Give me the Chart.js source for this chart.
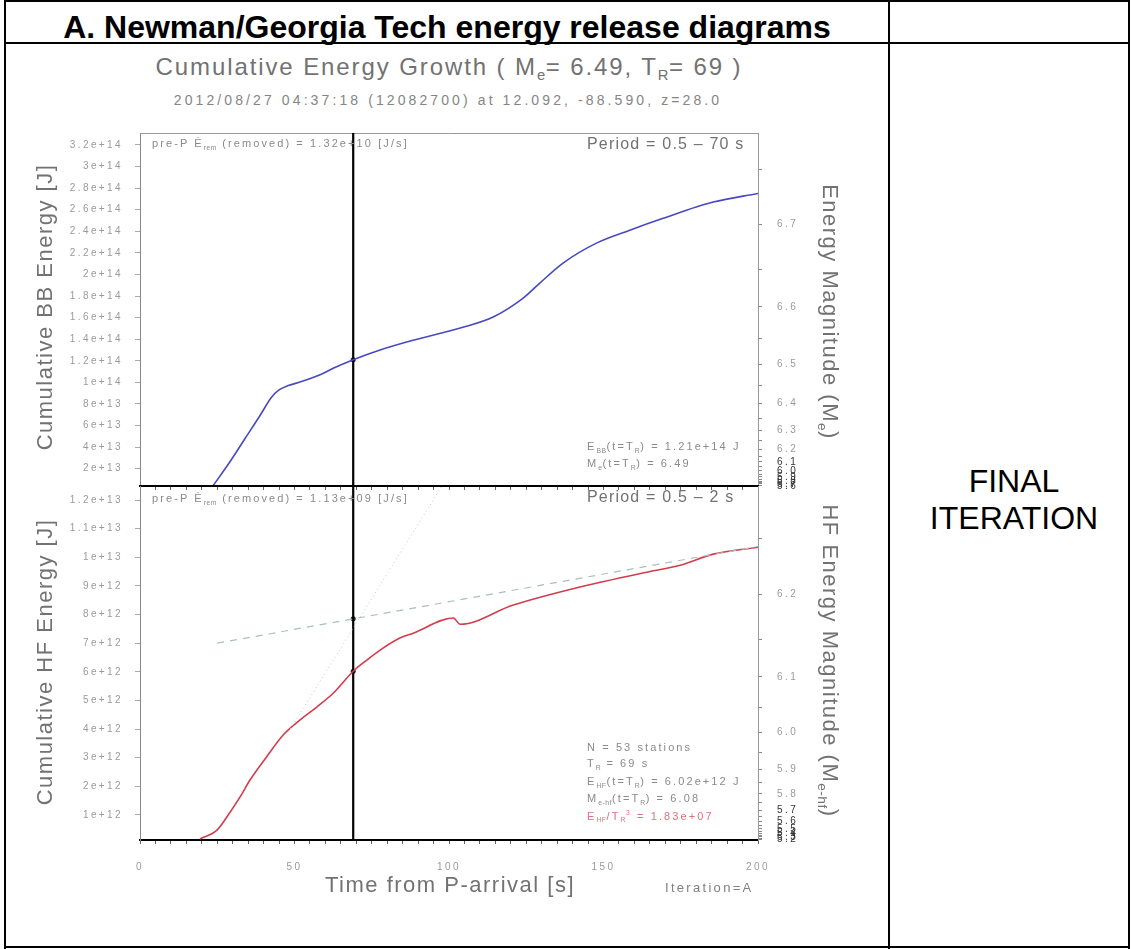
<!DOCTYPE html>
<html lang="en">
<head>
<meta charset="UTF-8">
<title>Cumulative Energy Growth</title>
<script src="https://cdn.jsdelivr.net/npm/chart.js@4.4.1/dist/chart.umd.min.js"></script>
<style>
  body { margin: 0; background: #fff; font-family: 'Liberation Sans', Arial, sans-serif; }
  #page { position: relative; width: 1131px; height: 949px; overflow: hidden; }
  .rule { position: absolute; background: #000; }
  .txt { position: absolute; white-space: nowrap; color: #727272; line-height: 1; }
  .c { transform: translate(-50%, -50%); }
  .l { transform: translate(0, -50%); }
  .up { transform: translate(-50%, -50%) rotate(-90deg); }
  .down { transform: translate(-50%, -50%) rotate(90deg); }
  .small { font-size: 11px; letter-spacing: 2.1px; color: #8a8a8a; }
  .ax { font-size: 22px; letter-spacing: 1.5px; }
  sub { font-size: 62%; vertical-align: -0.35em; letter-spacing: 0.5px; }
  canvas { position: absolute; }
</style>
</head>
<body>
<div id="page">
  <!-- table frame -->
  <div class="rule" style="left:4px;top:0;width:1126px;height:2px"></div>
  <div class="rule" style="left:4px;top:42px;width:1126px;height:2px"></div>
  <div class="rule" style="left:4px;top:946px;width:1126px;height:2px"></div>
  <div class="rule" style="left:4px;top:0;width:2px;height:949px"></div>
  <div class="rule" style="left:888px;top:0;width:2px;height:949px"></div>
  <div class="rule" style="left:1128px;top:0;width:2px;height:949px"></div>

  <div class="txt" style="left:6px;width:882px;top:11px;text-align:center;font-weight:bold;font-size:32px;color:#000">A. Newman/Georgia Tech energy release diagrams</div>
  <div class="txt" style="left:895px;width:238px;top:463px;text-align:center;font-size:32px;line-height:37px;color:#000">FINAL<br>ITERATION</div>

  <canvas id="topPanel" width="890" height="370" style="left:0;top:120px"></canvas>
  <canvas id="bottomPanel" width="890" height="440" style="left:0;top:480px"></canvas>

  <!-- titles -->
  <div class="txt c" style="left:449px;top:69px;font-size:24px;letter-spacing:1.9px">Cumulative Energy Growth ( M<sub>e</sub>= 6.49, T<sub>R</sub>= 69 )</div>
  <div class="txt c" style="left:448px;top:100px;font-size:14px;letter-spacing:3.1px;color:#858585">2012/08/27 04:37:18 (12082700) at 12.092, -88.590, z=28.0</div>

  <div class="txt ax up" style="left:45px;top:307px">Cumulative BB Energy [J]</div>
  <div class="txt ax up" style="left:45px;top:662px">Cumulative HF Energy [J]</div>
  <div class="txt ax down" style="left:828px;top:312px">Energy Magnitude (M<sub>e</sub>)</div>
  <div class="txt ax down" style="left:828px;top:661px">HF Energy Magnitude (M<sub>e-hf</sub>)</div>
  <div class="txt ax c" style="left:450px;top:885px">Time from P-arrival [s]</div>
  <div class="txt l" style="left:665px;top:887px;font-size:13px;letter-spacing:2.3px;color:#808080">Iteration=A</div>

  <!-- top panel notes -->
  <div class="txt l small" style="left:152px;top:145px">pre-P Ė<sub>rem</sub> (removed) = 1.32e+10 [J/s]</div>
  <div class="txt l" style="left:587px;top:144px;font-size:16px;letter-spacing:1.2px">Period = 0.5 – 70 s</div>
  <div class="txt l small" style="left:587px;top:448px">E<sub>BB</sub>(t=T<sub>R</sub>) = 1.21e+14 J</div>
  <div class="txt l small" style="left:587px;top:465px">M<sub>e</sub>(t=T<sub>R</sub>) = 6.49</div>

  <!-- bottom panel notes -->
  <div class="txt l small" style="left:152px;top:500px">pre-P Ė<sub>rem</sub> (removed) = 1.13e+09 [J/s]</div>
  <div class="txt l" style="left:587px;top:497px;font-size:16px;letter-spacing:1.2px">Period = 0.5 – 2 s</div>
  <div class="txt l small" style="left:587px;top:747px">N = 53 stations</div>
  <div class="txt l small" style="left:587px;top:765px">T<sub>R</sub> = 69 s</div>
  <div class="txt l small" style="left:587px;top:783px">E<sub>HF</sub>(t=T<sub>R</sub>) = 6.02e+12 J</div>
  <div class="txt l small" style="left:587px;top:800px">M<sub>e-hf</sub>(t=T<sub>R</sub>) = 6.08</div>
  <div class="txt l small" style="left:587px;top:817px;color:#e0707e">E<sub>HF</sub>/T<sub>R</sub><sup style="font-size:62%">3</sup> = 1.83e+07</div>
</div>

<script>
// time axis (s)
const T_R = 69;
const xTickLabels = [0, 50, 100, 150, 200];
const xMinorStep = 5;

// broadband (0.5 - 70 s) cumulative energy, J
const bbTime = [23.6, 29, 34, 39, 42.5, 45, 48, 52, 58.3, 62.5, 69, 77.7, 88.4, 104.5, 114.3, 124.0, 129.4, 136.9, 147.7, 158.5, 169.3, 185.5, 200];
const bbEnergy = [0.4e13, 2.6e13, 4.8e13, 7.0e13, 8.6e13, 9.3e13, 9.7e13, 10.05e13, 10.7e13, 11.3e13, 12.1e13, 13.0e13, 13.9e13, 15.1e13, 16.05e13, 17.8e13, 19.2e13, 21.05e13, 22.9e13, 24.1e13, 25.2e13, 26.7e13, 27.5e13];

// high frequency (0.5 - 2 s) cumulative energy, J
const hfTime = [19.4, 24.9, 28.1, 32.4, 35.6, 41.1, 46.4, 51.8, 57.2, 62.6, 69, 73.4, 77.7, 84.1, 88.4, 101.4, 103.6, 120.8, 142.4, 164.0, 174.8, 185.5, 200];
const hfEnergy = [0.16e12, 0.47e12, 0.93e12, 1.63e12, 2.22e12, 3.05e12, 3.8e12, 4.32e12, 4.77e12, 5.26e12, 6.02e12, 6.41e12, 6.76e12, 7.18e12, 7.35e12, 7.88e12, 7.66e12, 8.33e12, 8.96e12, 9.48e12, 9.72e12, 10.11e12, 10.35e12];

// fit lines drawn on the HF panel
const fitTime = [25, 200];
const fitEnergy = [7.0e12, 10.38e12];
const slopeTime = [48, 98];
const slopeEnergy = [3.89e12, 12.54e12];

// values marked at t = T_R
const bbAtTR = [1.21e14];
const hfAtTR = [6.02e12, 7.85e12];

// axes
const bbRange = [4e12, 3.31e14];
const hfRange = [1.26e11, 1.249e13];
const bbTicks = [2e13, 4e13, 6e13, 8e13, 1e14, 1.2e14, 1.4e14, 1.6e14, 1.8e14, 2e14, 2.2e14, 2.4e14, 2.6e14, 2.8e14, 3e14, 3.2e14];
const hfTicks = [1e12, 2e12, 3e12, 4e12, 5e12, 6e12, 7e12, 8e12, 9e12, 1e13, 1.1e13, 1.2e13];
const bbMagTicks = [6.75, 6.7, 6.65, 6.6, 6.55, 6.5, 6.45, 6.4, 6.35, 6.3, 6.25, 6.2, 6.15, 6.1, 6.05, 6.0, 5.95, 5.9, 5.85, 5.8, 5.75, 5.7, 5.65, 5.6];
const hfMagTicks = [6.25, 6.2, 6.15, 6.1, 6.05, 6.0, 5.95, 5.9, 5.85, 5.8, 5.75, 5.7, 5.65, 5.6, 5.55, 5.5, 5.45, 5.4, 5.35, 5.3, 5.25, 5.2];
// below these the printed labels pile up into a dark smudge
const bbMagCrowded = 6.15;
const hfMagCrowded = 5.75;

// magnitude scale on the right hand axes (as printed on the plot)
const bbMagToEnergy = m => Math.pow(10, 14.068 + 1.62 * (m - 6.5));
const hfMagToEnergy = m => Math.pow(10, 12.765 + 1.75 * (m - 6.1));

const GREY = '#9a9a9a';
const tickFont = { family: "'Liberation Sans', Arial, sans-serif", size: 10 };

function xy(xs, ys) {
    return xs.map((x, i) => ({ x: x, y: ys[i] }));
}

// canvas text is spaced out like the original plot
const spacedText = {
    id: 'spacedText',
    beforeUpdate(chart) { chart.ctx.letterSpacing = '2.4px'; },
    beforeDraw(chart) { chart.ctx.letterSpacing = '2.4px'; }
};

// keep the plot box where it is, whatever the labels want
function noPad(s) {
    s.paddingTop = 0; s.paddingBottom = 0; s.paddingLeft = 0; s.paddingRight = 0;
}

function makePanel(id, cfg) {
    const magTicks = cfg.magTicks.filter(m => {
        const e = cfg.magToEnergy(m);
        return e >= cfg.range[0] && e <= cfg.range[1];
    });
    return new Chart(document.getElementById(id), {
        type: 'line',
        data: { datasets: cfg.datasets },
        plugins: [spacedText],
        options: {
            responsive: false,
            animation: false,
            parsing: false,
            layout: { padding: { top: cfg.padTop, left: 0, right: 0, bottom: 0 } },
            plugins: { legend: { display: false }, tooltip: { enabled: false } },
            elements: { point: { radius: 0 } },
            scales: {
                x: {
                    type: 'linear', min: 0, max: 200,
                    afterBuildTicks: s => {
                        const t = [];
                        for (let v = 0; v <= 200; v += xMinorStep) t.push({ value: v });
                        s.ticks = t;
                    },
                    afterFit: s => { s.height = cfg.xHeight; noPad(s); },
                    ticks: {
                        display: cfg.xLabels, autoSkip: false, maxRotation: 0, padding: 17,
                        color: GREY, font: tickFont,
                        callback: v => xTickLabels.includes(v) ? String(v) : ''
                    },
                    grid: { drawOnChartArea: false, tickLength: 4, color: '#666' },
                    border: { color: '#000', width: 2 }
                },
                xTop: {
                    type: 'linear', position: 'top', min: 0, max: 200,
                    afterFit: s => { s.height = 0; noPad(s); },
                    ticks: { display: false },
                    grid: { display: false },
                    border: { color: cfg.topBorder, width: cfg.topBorderWidth }
                },
                y: {
                    type: 'linear', position: 'left', min: cfg.range[0], max: cfg.range[1],
                    afterBuildTicks: s => { s.ticks = cfg.ticks.map(v => ({ value: v })); },
                    afterFit: s => { s.width = 140; noPad(s); },
                    ticks: { color: GREY, font: tickFont, padding: 12, autoSkip: false, callback: v => v.toExponential() },
                    grid: { drawOnChartArea: false, tickLength: 5, color: '#aaa' },
                    border: { color: '#888', width: 1 }
                },
                yMag: {
                    type: 'linear', position: 'right', min: cfg.range[0], max: cfg.range[1],
                    afterBuildTicks: s => { s.ticks = magTicks.map(m => ({ value: cfg.magToEnergy(m) })); },
                    afterFit: s => { s.width = 132; noPad(s); },
                    ticks: {
                        font: tickFont, padding: 15, autoSkip: false,
                        color: c => magTicks[c.index] < cfg.crowded ? '#333' : GREY,
                        callback: (v, i) => {
                            const m = magTicks[i];
                            return Math.abs(m * 10 - Math.round(m * 10)) < 1e-6 ? m.toFixed(1) : '';
                        }
                    },
                    grid: { drawOnChartArea: false, tickLength: 4, color: '#888' },
                    border: { color: '#999', width: 1 }
                }
            }
        }
    });
}

const trLine = range => ({
    data: xy([T_R, T_R], range),
    borderColor: '#000', borderWidth: 2.2, pointRadius: 0
});

makePanel('topPanel', {
    padTop: 13, xHeight: 4, xLabels: false,
    topBorder: '#999', topBorderWidth: 1,
    range: bbRange, ticks: bbTicks, magTicks: bbMagTicks, magToEnergy: bbMagToEnergy, crowded: bbMagCrowded,
    datasets: [
        { data: xy(bbTime, bbEnergy), borderColor: '#4848c4', borderWidth: 1.6, cubicInterpolationMode: 'monotone' },
        trLine(bbRange),
        { data: xy([T_R], bbAtTR), showLine: false, pointRadius: 2.5, backgroundColor: '#223', borderWidth: 0 }
    ]
});

makePanel('bottomPanel', {
    padTop: 6, xHeight: 80, xLabels: true,
    topBorder: '#000', topBorderWidth: 2,
    range: hfRange, ticks: hfTicks, magTicks: hfMagTicks, magToEnergy: hfMagToEnergy, crowded: hfMagCrowded,
    datasets: [
        { data: xy(slopeTime, slopeEnergy), borderColor: '#c8c8c8', borderWidth: 1, borderDash: [1, 3] },
        { data: xy(fitTime, fitEnergy), borderColor: '#aac0bb', borderWidth: 1.2, borderDash: [7, 6] },
        { data: xy(hfTime, hfEnergy), borderColor: '#d23c4c', borderWidth: 1.6, cubicInterpolationMode: 'monotone' },
        trLine(hfRange),
        { data: xy([T_R, T_R], hfAtTR), showLine: false, pointRadius: 2.5, backgroundColor: '#223', borderWidth: 0 }
    ]
});
</script>
</body>
</html>
